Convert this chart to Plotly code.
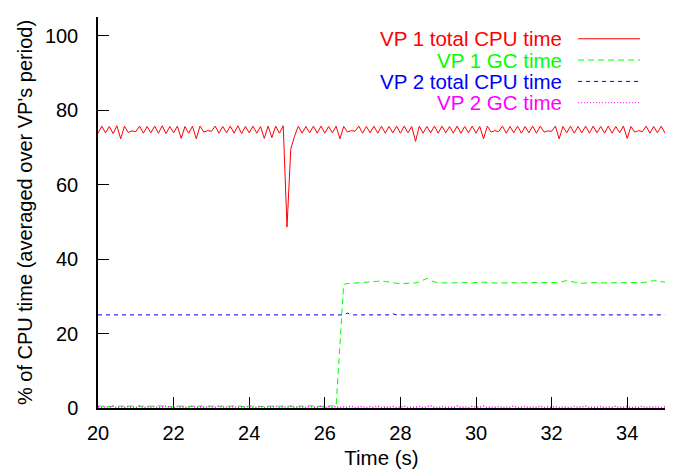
import plotly.graph_objects as go

# ---- data ----
time_s = [
    20.0, 20.1, 20.2, 20.3, 20.4, 20.5, 20.6, 20.7, 20.8, 20.9,
    21.0, 21.1, 21.2, 21.3, 21.4, 21.5, 21.6, 21.7, 21.8, 21.9,
    22.0, 22.1, 22.2, 22.3, 22.4, 22.5, 22.6, 22.7, 22.8, 22.9,
    23.0, 23.1, 23.2, 23.3, 23.4, 23.5, 23.6, 23.7, 23.8, 23.9,
    24.0, 24.1, 24.2, 24.3, 24.4, 24.5, 24.6, 24.7, 24.8, 24.9,
    25.0, 25.1, 25.2, 25.3, 25.4, 25.5, 25.6, 25.7, 25.8, 25.9,
    26.0, 26.1, 26.2, 26.3, 26.4, 26.5, 26.6, 26.7, 26.8, 26.9,
    27.0, 27.1, 27.2, 27.3, 27.4, 27.5, 27.6, 27.7, 27.8, 27.9,
    28.0, 28.1, 28.2, 28.3, 28.4, 28.5, 28.6, 28.7, 28.8, 28.9,
    29.0, 29.1, 29.2, 29.3, 29.4, 29.5, 29.6, 29.7, 29.8, 29.9,
    30.0, 30.1, 30.2, 30.3, 30.4, 30.5, 30.6, 30.7, 30.8, 30.9,
    31.0, 31.1, 31.2, 31.3, 31.4, 31.5, 31.6, 31.7, 31.8, 31.9,
    32.0, 32.1, 32.2, 32.3, 32.4, 32.5, 32.6, 32.7, 32.8, 32.9,
    33.0, 33.1, 33.2, 33.3, 33.4, 33.5, 33.6, 33.7, 33.8, 33.9,
    34.0, 34.1, 34.2, 34.3, 34.4, 34.5, 34.6, 34.7, 34.8, 34.9,
    35.0,
]

vp1_total_cpu = [
    73.8, 75.7, 73.9, 75.6, 73.7, 75.8, 72.3, 75.7, 74.0, 74.4,
    74.2, 75.7, 73.8, 75.6, 73.9, 75.7, 73.8, 75.8, 73.7, 75.6,
    73.9, 75.7, 72.4, 75.6, 73.8, 75.7, 72.3, 75.7, 74.1, 74.5,
    74.3, 75.7, 73.8, 75.6, 73.9, 75.7, 73.8, 75.8, 73.7, 75.6,
    73.9, 75.7, 73.8, 75.6, 72.4, 75.7, 72.6, 75.7, 73.8, 75.8,
    48.6, 69.5, 73.0, 75.7, 73.8, 75.6, 73.9, 75.7, 73.8, 75.7,
    73.8, 75.6, 73.9, 75.7, 72.3, 75.6, 74.1, 74.5, 74.3, 75.7,
    73.8, 75.6, 73.9, 75.7, 73.8, 75.7, 73.8, 75.6, 73.9, 75.7,
    73.8, 75.7, 73.9, 75.6, 71.6, 75.7, 73.8, 75.6, 73.9, 75.7,
    73.8, 75.7, 73.9, 75.6, 73.8, 75.7, 73.8, 75.6, 73.9, 75.7,
    73.8, 75.6, 72.3, 75.7, 74.1, 74.5, 74.2, 75.7, 73.8, 75.6,
    73.9, 75.7, 73.8, 75.6, 73.9, 75.7, 73.8, 75.7, 74.1, 74.4,
    74.3, 75.7, 72.3, 75.6, 73.9, 75.7, 73.8, 75.6, 73.9, 75.7,
    73.8, 75.7, 73.9, 75.6, 73.8, 75.7, 73.8, 75.6, 73.9, 75.7,
    72.4, 75.6, 74.1, 74.5, 74.2, 75.7, 73.8, 75.6, 73.9, 75.7,
    73.8,
]

vp1_gc = [
    0.5, 0.6, 0.5, 0.4, 0.5, 0.6, 0.5, 0.5, 0.4, 0.5,
    0.5, 0.6, 0.5, 0.5, 0.4, 0.5, 0.6, 0.5, 0.5, 0.4,
    0.5, 0.6, 0.5, 0.4, 0.5, 0.6, 0.5, 0.5, 0.4, 0.5,
    0.5, 0.6, 0.5, 0.5, 0.4, 0.5, 0.6, 0.5, 0.5, 0.4,
    0.5, 0.6, 0.5, 0.4, 0.5, 0.6, 0.5, 0.5, 0.4, 0.5,
    0.5, 0.6, 0.5, 0.5, 0.4, 0.5, 0.6, 0.5, 0.5, 0.4,
    0.5, 0.5, 0.6, 0.6, 17.0, 33.2, 33.4, 33.5, 33.4, 33.6,
    33.7, 33.8, 33.9, 34.0, 34.1, 34.1, 34.0, 33.8, 33.6, 33.5,
    33.4, 33.4, 33.4, 33.5, 33.6, 33.9, 34.4, 34.8, 34.2, 33.8,
    33.6, 33.6, 33.7, 33.6, 33.6, 33.5, 33.6, 33.7, 33.6, 33.6,
    33.7, 33.8, 33.8, 33.7, 33.6, 33.6, 33.5, 33.6, 33.6, 33.7,
    33.6, 33.6, 33.6, 33.5, 33.6, 33.6, 33.7, 33.6, 33.6, 33.6,
    33.6, 33.7, 33.8, 34.0, 34.2, 34.0, 33.7, 33.6, 33.5, 33.6,
    33.6, 33.6, 33.7, 33.6, 33.6, 33.6, 33.5, 33.6, 33.6, 33.7,
    33.6, 33.6, 33.5, 33.6, 33.7, 33.8, 34.0, 34.2, 34.1, 33.9,
    33.8,
]

vp2_total_cpu = [
    25.0, 25.0, 25.0, 25.0, 25.0, 25.0, 25.0, 25.0, 25.0, 25.0,
    25.0, 25.0, 25.0, 25.0, 25.0, 25.0, 25.0, 25.0, 25.0, 25.0,
    25.0, 25.0, 25.0, 25.0, 25.0, 25.0, 25.0, 25.0, 25.0, 25.0,
    25.0, 25.0, 25.0, 25.0, 25.0, 25.0, 25.0, 25.0, 25.0, 25.0,
    25.0, 25.0, 25.0, 25.0, 25.0, 25.0, 25.0, 25.0, 25.0, 25.0,
    25.0, 25.0, 25.0, 25.0, 25.0, 25.0, 25.0, 25.0, 25.0, 25.0,
    25.0, 25.0, 25.0, 25.0, 25.0, 25.0, 25.5, 25.0, 25.0, 25.0,
    25.0, 25.0, 25.0, 25.0, 25.0, 25.0, 25.0, 25.0, 25.3, 25.0,
    25.0, 25.0, 25.0, 25.0, 25.0, 25.0, 25.0, 25.0, 25.0, 25.0,
    25.0, 25.0, 25.0, 25.0, 25.0, 25.0, 25.0, 25.0, 25.0, 25.0,
    25.0, 25.0, 25.0, 25.0, 25.0, 25.0, 25.0, 25.0, 25.0, 25.0,
    25.0, 25.0, 25.0, 25.0, 25.0, 25.0, 25.0, 25.0, 25.0, 25.0,
    25.0, 25.0, 25.0, 25.0, 25.0, 25.0, 25.0, 25.0, 25.0, 25.0,
    25.0, 25.0, 25.0, 25.0, 25.0, 25.0, 25.0, 25.0, 25.0, 25.0,
    25.0, 25.0, 25.0, 25.0, 25.0, 25.0, 25.0, 25.0, 25.0, 25.0,
    25.0,
]

vp2_gc = [
    0.3, 0.1, 0.4, 0.2, 0.5, 0.1, 0.3, 0.2, 0.4, 0.1,
    0.2, 0.5, 0.1, 0.3, 0.2, 0.4, 0.1, 0.3, 0.5, 0.2,
    0.1, 0.4, 0.2, 0.3, 0.1, 0.5, 0.2, 0.3, 0.1, 0.4,
    0.3, 0.2, 0.5, 0.1, 0.3, 0.2, 0.4, 0.1, 0.3, 0.2,
    0.5, 0.1, 0.2, 0.4, 0.1, 0.3, 0.2, 0.5, 0.1, 0.3,
    0.2, 0.4, 0.1, 0.3, 0.2, 0.1, 0.4, 0.2, 0.3, 0.5,
    0.1, 0.3, 0.2, 0.4, 0.1, 0.3, 0.2, 0.5, 0.1, 0.2,
    0.4, 0.1, 0.3, 0.2, 0.5, 0.1, 0.3, 0.2, 0.4, 0.1,
    0.2, 0.5, 0.1, 0.3, 0.2, 0.4, 0.1, 0.3, 0.6, 0.2,
    0.1, 0.4, 0.2, 0.3, 0.1, 0.5, 0.2, 0.3, 0.1, 0.4,
    0.3, 0.2, 0.5, 0.1, 0.3, 0.2, 0.4, 0.1, 0.3, 0.2,
    0.5, 0.1, 0.2, 0.4, 0.1, 0.3, 0.2, 0.5, 0.1, 0.3,
    0.2, 0.4, 0.1, 0.3, 0.2, 0.1, 0.4, 0.2, 0.3, 0.5,
    0.1, 0.3, 0.2, 0.4, 0.1, 0.3, 0.2, 0.5, 0.1, 0.2,
    0.4, 0.1, 0.3, 0.2, 0.5, 0.1, 0.3, 0.2, 0.4, 0.1,
    0.3,
]

series_names = ["VP 1 total CPU time", "VP 1 GC time", "VP 2 total CPU time", "VP 2 GC time"]
series_values = [vp1_total_cpu, vp1_gc, vp2_total_cpu, vp2_gc]
series_colors = ["#ff0000", "#00ff00", "#0000ff", "#ff00ff"]
series_dash = ["solid", "6px,4px", "4px,4px", "1px,2px"]
series_width = [1, 1, 1, 1.6]

x_title = "Time (s)"
y_title = "% of CPU time (averaged over VP's period)"

FONT = "Liberation Sans, Arial, sans-serif"

fig = go.Figure()
for name, vals, col, dash, w in zip(series_names, series_values, series_colors,
                                    series_dash, series_width):
    fig.add_trace(go.Scatter(
        x=time_s, y=vals, mode="lines", name=name,
        line=dict(color=col, width=w, dash=dash),
        showlegend=False,
    ))

# custom legend: right-aligned coloured text with line sample on the right
legend_y = [0.9443, 0.8899, 0.8353, 0.7809]
for name, col, dash, ly in zip(series_names, series_colors, series_dash, legend_y):
    fig.add_annotation(
        x=0.8203, y=ly, xref="paper", yref="paper",
        text=name, showarrow=False, xanchor="right", yanchor="middle",
        font=dict(color=col, size=20.5, family=FONT), borderpad=0,
        height=19, valign="middle",
    )
    fig.add_shape(
        type="line", xref="paper", yref="paper",
        x0=0.8467, x1=0.9559, y0=ly, y1=ly,
        line=dict(color=col, width=1, dash=dash),
    )

# page body adds an 8px offset, so the figure is sized to fit the window
fig.update_layout(
    width=667, height=467,
    margin=dict(l=90, r=10, t=9, b=67),
    paper_bgcolor="white", plot_bgcolor="white",
    font=dict(family=FONT, size=20, color="black"),
    showlegend=False,
)
fig.update_xaxes(
    range=[20, 35], tick0=20, dtick=2, ticks="inside", ticklen=11,
    tickwidth=1, tickcolor="black", showline=True, linecolor="black",
    linewidth=1.5, mirror=False, showgrid=False, zeroline=False,
    title=dict(text=x_title, font=dict(size=20.5), standoff=8),
    layer="below traces", automargin=False, ticklabelstandoff=6,
)
fig.update_yaxes(
    range=[0, 105], tick0=0, dtick=20, ticks="inside", ticklen=11,
    tickwidth=1, tickcolor="black", showline=True, linecolor="black",
    linewidth=1.5, mirror=False, showgrid=False, zeroline=False,
    title=dict(text=y_title, font=dict(size=20), standoff=7),
    layer="below traces", automargin=False, ticklabelstandoff=14,
)

fig.write_html("out.html")
